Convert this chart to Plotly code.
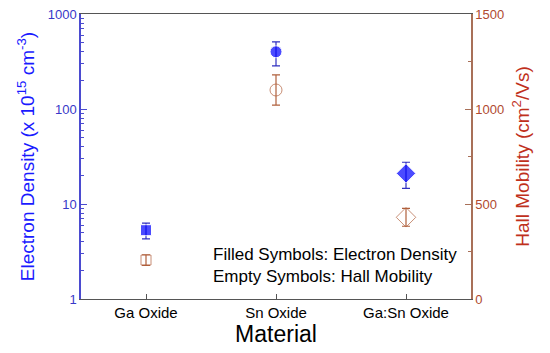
import plotly.graph_objects as go

materials = ["Ga Oxide", "Sn Oxide", "Ga:Sn Oxide"]
density = [5.3, 400, 21]
density_hi = [6.3, 510, 27.5]
density_lo = [4.3, 285, 14.6]
mobility = [205, 1100, 430]
mobility_err = [28, 80, 47]
symbols_filled = ["square", "circle", "diamond"]
symbols_open = ["square-open", "circle-open", "diamond-open"]

BLUE = "#0000ff"
BROWN = "#b0603c"
FONT = "Liberation Sans, Arial, sans-serif"

fig = go.Figure()
fig.add_trace(go.Scatter(
    x=materials, y=density, mode="markers",
    marker=dict(symbol=symbols_filled, size=[11, 12, 15], color=BLUE),
    error_y=dict(type="data", symmetric=False,
                 array=[h - v for h, v in zip(density_hi, density)],
                 arrayminus=[v - l for v, l in zip(density, density_lo)],
                 color="#3030c0", thickness=1.2, width=4),
    showlegend=False, yaxis="y"))
fig.add_trace(go.Scatter(
    x=materials, y=mobility, mode="markers",
    marker=dict(symbol=symbols_open, size=[10, 12, 15], color=BROWN,
                line=dict(color=BROWN, width=1)),
    error_y=dict(type="data", array=mobility_err, color=BROWN,
                 thickness=1.2, width=4),
    showlegend=False, yaxis="y2"))

# page body adds an 8px margin, so the figure is sized to fit the window
fig.update_layout(
    width=542, height=345,
    margin=dict(l=73, r=79, t=6, b=54, autoexpand=False),
    paper_bgcolor="white", plot_bgcolor="white",
    font=dict(family=FONT, size=12, color="black"),
    xaxis=dict(type="category", range=[-0.5, 2.5], automargin=False,
               showline=True, linecolor="#555555", linewidth=1, mirror=True,
               ticks="inside", ticklen=5, tickcolor="#555555",
               showgrid=False, zeroline=False,
               tickfont=dict(size=15, color="black"),
               title=dict(text="Material", font=dict(size=23, color="black"), standoff=4)),
    yaxis=dict(type="log", range=[0, 3], dtick=1, automargin=False,
               ticklabeloverflow="allow",
               showline=True, linecolor="#4b4bd0", linewidth=1.5,
               ticks="inside", ticklen=6, tickcolor="#4b4bd0",
               minor=dict(ticks="inside", ticklen=3, tickcolor="#4b4bd0"),
               showgrid=False, zeroline=False,
               tickfont=dict(size=13, color="#3838c8"),
               title=dict(text="Electron Density (x 10<sup>15</sup> cm<sup>-3</sup>)",
                          font=dict(size=19, color="#1a1aff"), standoff=8)),
    yaxis2=dict(overlaying="y", side="right", range=[0, 1500], dtick=500, automargin=False,
                ticklabeloverflow="allow",
                showline=True, linecolor="#a87058", linewidth=1.5,
                ticks="inside", ticklen=6, tickcolor="#a87058",
                minor=dict(ticks="inside", ticklen=3, tickcolor="#a87058", dtick=250),
                showgrid=False, zeroline=False,
                tickfont=dict(size=13, color="#b04a30"),
                title=dict(text="Hall Mobility (cm<sup>2</sup>/Vs)",
                           font=dict(size=19, color="#c0301c"), standoff=12)),
    annotations=[dict(
        xref="paper", yref="paper", x=0.334, y=0.04, xanchor="left", yanchor="bottom",
        text="Filled Symbols: Electron Density<br>Empty Symbols: Hall Mobility",
        align="left", showarrow=False, font=dict(size=17, color="black"))],
)

fig.write_html("out.html")
